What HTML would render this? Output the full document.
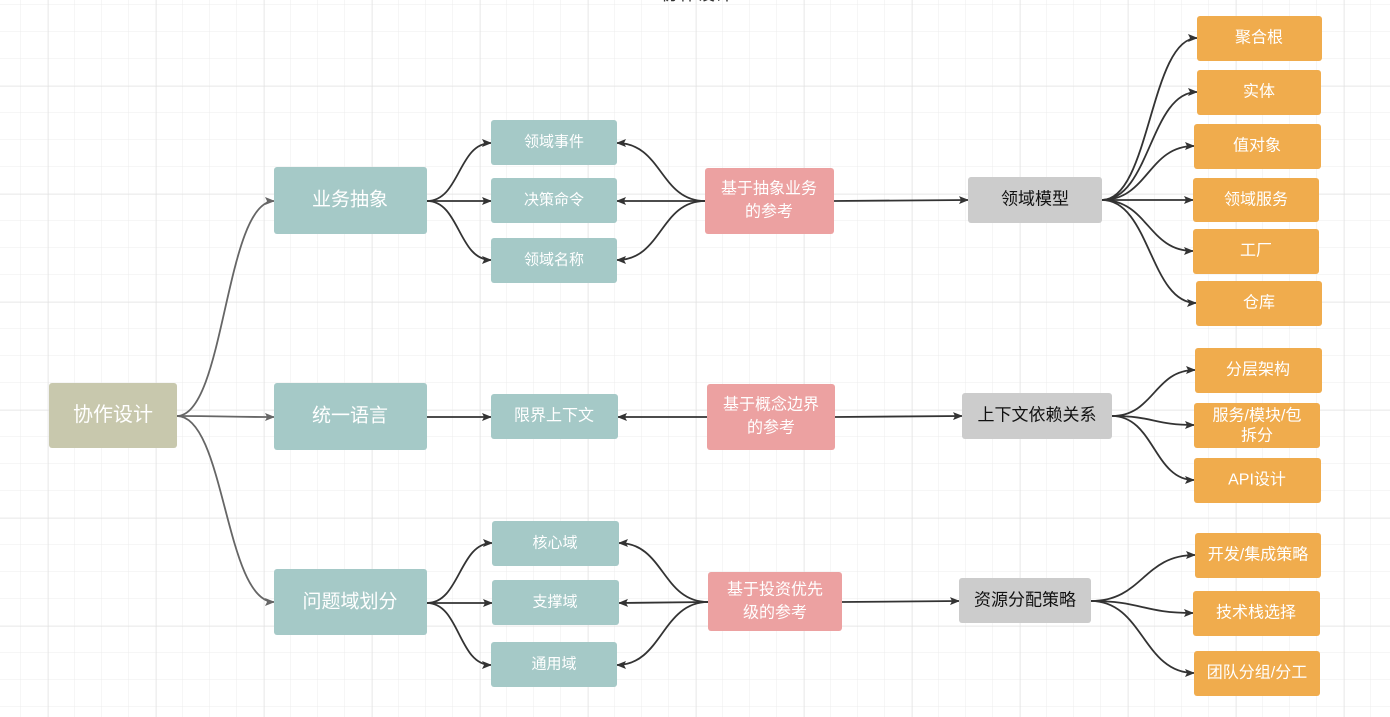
<!DOCTYPE html>
<html><head><meta charset="utf-8"><style>
html,body{margin:0;padding:0;background:#fff;}
svg{display:block;}
text{font-family:"Liberation Sans","Noto Sans CJK SC",sans-serif;fill:#fff;text-anchor:middle;dominant-baseline:central;}
</style></head><body>
<svg width="1390" height="717" viewBox="0 0 1390 717" xmlns="http://www.w3.org/2000/svg">
<defs>
<pattern id="g" x="-6" y="5" width="27" height="27" patternUnits="userSpaceOnUse"><path d="M27 0V27M0 27H27" fill="none" stroke="#ececec" stroke-width="1"/></pattern>
<pattern id="G" x="48" y="-22" width="108" height="108" patternUnits="userSpaceOnUse"><path d="M0 0V108M0 0H108" fill="none" stroke="#e0e0e0" stroke-width="1"/></pattern>
<marker id="a" markerWidth="10" markerHeight="8" refX="9" refY="4" orient="auto" markerUnits="userSpaceOnUse"><path d="M0 0L10 4L0 8L2 4Z" fill="#333"/></marker>
<marker id="b" markerWidth="10" markerHeight="8" refX="9" refY="4" orient="auto" markerUnits="userSpaceOnUse"><path d="M0 0L10 4L0 8L2 4Z" fill="#666"/></marker>
</defs>
<rect width="1390" height="717" fill="url(#g)"/>
<rect width="1390" height="717" fill="url(#G)"/>
<text x="697" y="-6" style="fill:#333;font-size:18px">协作设计</text>

<g fill="none" stroke="#666" stroke-width="1.8" marker-end="url(#b)">
<path d="M177 416C225 416 225 201 274 201"/>
<path d="M177 416C225 416 225 417 274 417"/>
<path d="M177 416C225 416 225 602 274 602"/>
</g>
<g fill="none" stroke="#333" stroke-width="1.8" marker-end="url(#a)">
<path d="M427 201C460 201 458 143 491 143"/>
<path d="M427 201L491 201"/>
<path d="M427 201C460 201 458 260 491 260"/>
<path d="M427 417L491 417"/>
<path d="M427 603C460 603 459 543 492 543"/>
<path d="M427 603L492 603"/>
<path d="M427 603C460 603 458 665 491 665"/>
<path d="M705 201C660 201 662 143 617 143"/>
<path d="M705 201L617 201"/>
<path d="M705 201C660 201 662 260 617 260"/>
<path d="M834 201L968 200"/>
<path d="M707 417L618 417"/>
<path d="M835 417L962 416"/>
<path d="M708 602C662 602 664 543 619 543"/>
<path d="M708 602L619 603"/>
<path d="M708 602C662 602 662 665 617 665"/>
<path d="M842 602L959 601"/>
<path d="M1102 200C1150 200 1150 38 1197 38"/>
<path d="M1102 200C1150 200 1150 92 1197 92"/>
<path d="M1102 200C1148 200 1148 146 1194 146"/>
<path d="M1102 200L1193 200"/>
<path d="M1102 200C1148 200 1148 251 1193 251"/>
<path d="M1102 200C1150 200 1150 303 1196 303"/>
<path d="M1112 416C1154 416 1154 370 1195 370"/>
<path d="M1112 416C1154 416 1154 425 1194 425"/>
<path d="M1112 416C1154 416 1154 480 1194 480"/>
<path d="M1091 601C1143 601 1143 555 1195 555"/>
<path d="M1091 601C1142 601 1142 613 1193 613"/>
<path d="M1091 601C1143 601 1143 673 1194 673"/>
</g>

<g>
<rect x="49" y="383" width="128" height="65" rx="3" fill="#c8c8ad"/><text x="113" y="415" font-size="20">协作设计</text>
<rect x="274" y="167" width="153" height="67" rx="3" fill="#a5c9c7"/><text x="350" y="200" font-size="19">业务抽象</text>
<rect x="274" y="383" width="153" height="67" rx="3" fill="#a5c9c7"/><text x="350" y="416" font-size="19">统一语言</text>
<rect x="274" y="569" width="153" height="66" rx="3" fill="#a5c9c7"/><text x="350" y="602" font-size="19">问题域划分</text>

<rect x="491" y="120" width="126" height="45" rx="3" fill="#a5c9c7"/><text x="554" y="142" font-size="15">领域事件</text>
<rect x="491" y="178" width="126" height="45" rx="3" fill="#a5c9c7"/><text x="554" y="200" font-size="15">决策命令</text>
<rect x="491" y="238" width="126" height="45" rx="3" fill="#a5c9c7"/><text x="554" y="260" font-size="15">领域名称</text>
<rect x="491" y="394" width="127" height="45" rx="3" fill="#a5c9c7"/><text x="554" y="416" font-size="16">限界上下文</text>
<rect x="492" y="521" width="127" height="45" rx="3" fill="#a5c9c7"/><text x="555" y="543" font-size="15">核心域</text>
<rect x="492" y="580" width="127" height="45" rx="3" fill="#a5c9c7"/><text x="555" y="602" font-size="15">支撑域</text>
<rect x="491" y="642" width="126" height="45" rx="3" fill="#a5c9c7"/><text x="554" y="664" font-size="15">通用域</text>

<rect x="705" y="168" width="129" height="66" rx="3" fill="#eca1a1"/><text x="769" y="189" font-size="16">基于抽象业务</text><text x="769" y="212" font-size="16">的参考</text>
<rect x="707" y="384" width="128" height="66" rx="3" fill="#eca1a1"/><text x="771" y="405" font-size="16">基于概念边界</text><text x="771" y="428" font-size="16">的参考</text>
<rect x="708" y="572" width="134" height="59" rx="3" fill="#eca1a1"/><text x="775" y="590" font-size="16">基于投资优先</text><text x="775" y="613" font-size="16">级的参考</text>

<rect x="968" y="177" width="134" height="46" rx="3" fill="#cccccc"/><text x="1035" y="199" font-size="17" style="fill:#111">领域模型</text>
<rect x="962" y="393" width="150" height="46" rx="3" fill="#cccccc"/><text x="1037" y="415" font-size="17" style="fill:#111">上下文依赖关系</text>
<rect x="959" y="578" width="132" height="45" rx="3" fill="#cccccc"/><text x="1025" y="600" font-size="17" style="fill:#111">资源分配策略</text>

<g fill="#f0ac4d">
<rect x="1197" y="16" width="125" height="45" rx="3"/>
<rect x="1197" y="70" width="124" height="45" rx="3"/>
<rect x="1194" y="124" width="127" height="45" rx="3"/>
<rect x="1193" y="178" width="126" height="44" rx="3"/>
<rect x="1193" y="229" width="126" height="45" rx="3"/>
<rect x="1196" y="281" width="126" height="45" rx="3"/>
<rect x="1195" y="348" width="127" height="45" rx="3"/>
<rect x="1194" y="403" width="126" height="45" rx="3"/>
<rect x="1194" y="458" width="127" height="45" rx="3"/>
<rect x="1195" y="533" width="126" height="45" rx="3"/>
<rect x="1193" y="591" width="127" height="45" rx="3"/>
<rect x="1194" y="651" width="126" height="45" rx="3"/>
</g>
<text x="1259" y="38" font-size="16">聚合根</text>
<text x="1259" y="92" font-size="16">实体</text>
<text x="1257" y="146" font-size="16">值对象</text>
<text x="1256" y="200" font-size="16">领域服务</text>
<text x="1256" y="251" font-size="16">工厂</text>
<text x="1259" y="303" font-size="16">仓库</text>
<text x="1258" y="370" font-size="16">分层架构</text>
<text x="1257" y="416" font-size="16">服务/模块/包</text>
<text x="1257" y="436" font-size="16">拆分</text>
<text x="1257" y="480" font-size="16">API设计</text>
<text x="1258" y="555" font-size="16">开发/集成策略</text>
<text x="1256" y="613" font-size="16">技术栈选择</text>
<text x="1257" y="673" font-size="16">团队分组/分工</text>
</g>
</svg>
</body></html>
